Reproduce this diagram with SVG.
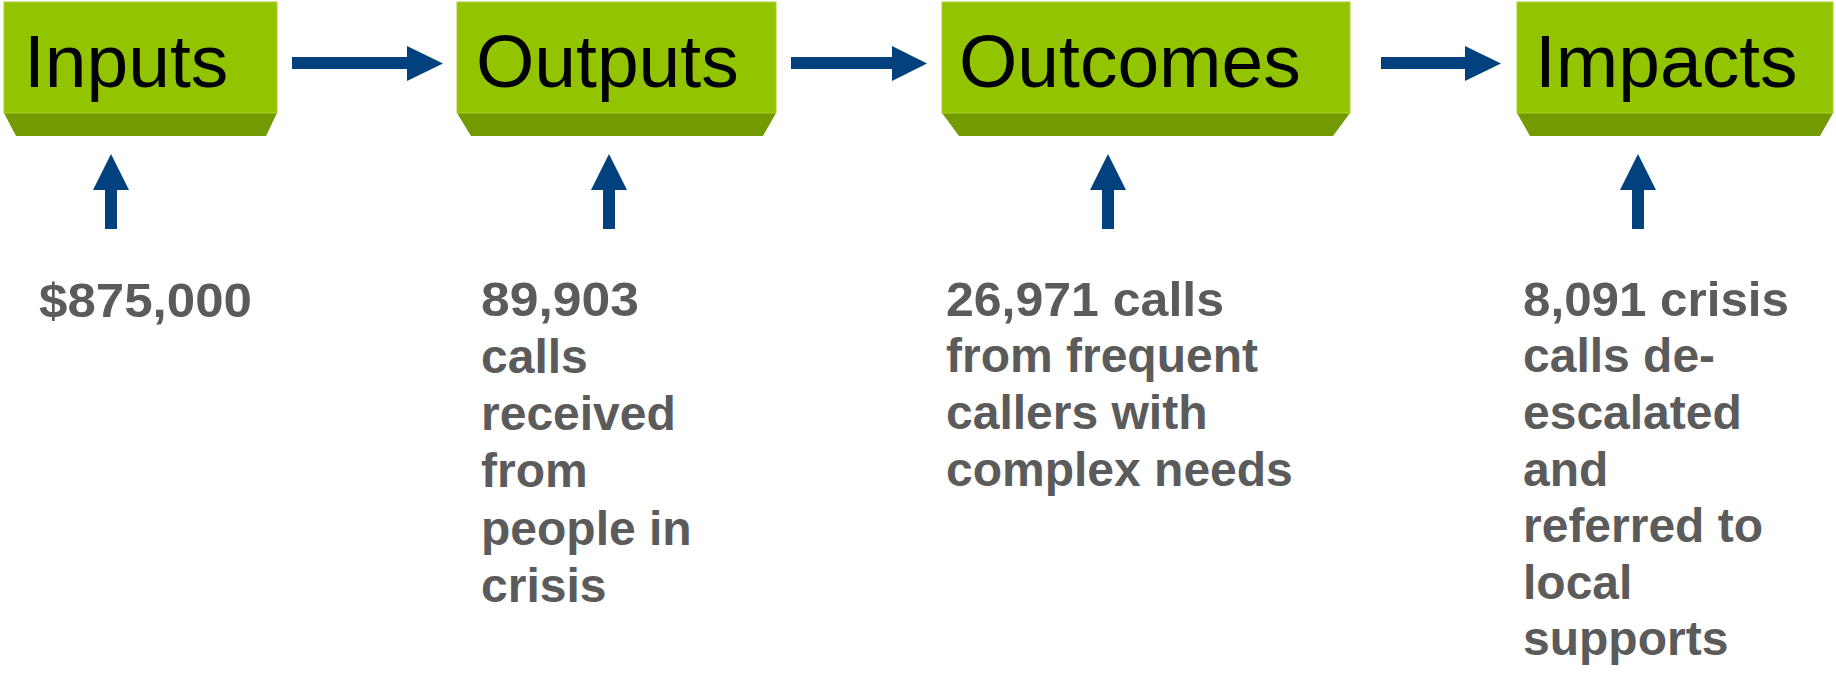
<svg xmlns="http://www.w3.org/2000/svg" width="1836" height="677" viewBox="0 0 1836 677">
  <defs>
    <style>
      .face { fill: #93C400; stroke: #A8D22A; stroke-width: 1; }
      .bevel { fill: #739A00; }
      .title { font-family: "Liberation Sans", Arial, sans-serif; font-size: 75px; fill: #000000; }
      .body { font-family: "Liberation Sans", Arial, sans-serif; font-size: 48px; font-weight: bold; fill: #5B5B5B; }
      .arrow { fill: #00417E; }
    </style>
  </defs>
  <rect width="1836" height="677" fill="#FFFFFF"/>

  <!-- stage boxes -->
  <g id="inputs">
    <polygon class="bevel" points="4,113 277,113 266,136 16,136"/>
    <rect class="face" x="4" y="2" width="273" height="111"/>
    <text class="title" x="24" y="87">Inputs</text>
  </g>
  <g id="outputs">
    <polygon class="bevel" points="457,113 776,113 763,136 471,136"/>
    <rect class="face" x="457" y="2" width="319" height="111"/>
    <text class="title" x="476" y="87">Outputs</text>
  </g>
  <g id="outcomes">
    <polygon class="bevel" points="942,113 1350,113 1333,136 959,136"/>
    <rect class="face" x="942" y="2" width="408" height="111"/>
    <text class="title" x="959" y="87">Outcomes</text>
  </g>
  <g id="impacts">
    <polygon class="bevel" points="1517,113 1833,113 1820,136 1530,136"/>
    <rect class="face" x="1517" y="2" width="316" height="111"/>
    <text class="title" x="1535" y="87">Impacts</text>
  </g>

  <!-- figures under each stage -->
  <g id="inputs-figure" class="body">
    <text x="39" y="317" textLength="213" lengthAdjust="spacingAndGlyphs">$875,000</text>
  </g>
  <g id="outputs-figure" class="body">
    <text x="481" y="316" textLength="158" lengthAdjust="spacingAndGlyphs">89,903</text>
    <text x="481" y="373">calls</text>
    <text x="481" y="430">received</text>
    <text x="481" y="487">from</text>
    <text x="481" y="545">people in</text>
    <text x="481" y="602">crisis</text>
  </g>
  <g id="outcomes-figure" class="body">
    <text x="946" y="316" textLength="278" lengthAdjust="spacingAndGlyphs">26,971 calls</text>
    <text x="946" y="372">from frequent</text>
    <text x="946" y="429">callers with</text>
    <text x="946" y="486">complex needs</text>
  </g>
  <g id="impacts-figure" class="body">
    <text x="1523" y="316" textLength="266" lengthAdjust="spacingAndGlyphs">8,091 crisis</text>
    <text x="1523" y="372">calls de-</text>
    <text x="1523" y="429">escalated</text>
    <text x="1523" y="486">and</text>
    <text x="1523" y="542">referred to</text>
    <text x="1523" y="599">local</text>
    <text x="1523" y="655">supports</text>
  </g>

  <!-- connectors -->
  <g id="connectors" class="arrow">
    <polygon points="292,57 407,57 407,46 443,63.5 407,81 407,69 292,69"/>
    <polygon points="791,57 892,57 892,46 927,63.5 892,81 892,69 791,69"/>
    <polygon points="1381,57 1465,57 1465,46 1501,63.5 1465,81 1465,69 1381,69"/>
    <polygon points="111,154 129,190 117,190 117,229 105,229 105,190 93,190"/>
    <polygon points="609,154 627,190 615,190 615,229 603,229 603,190 591,190"/>
    <polygon points="1108,154 1126,190 1114,190 1114,229 1102,229 1102,190 1090,190"/>
    <polygon points="1638,154 1656,190 1644,190 1644,229 1632,229 1632,190 1620,190"/>
  </g>
</svg>
